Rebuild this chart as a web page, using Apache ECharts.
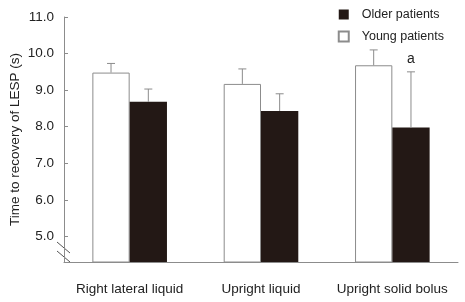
<!DOCTYPE html>
<html>
<head>
<meta charset="utf-8">
<script src="https://cdn.jsdelivr.net/npm/echarts@6/dist/echarts.min.js"></script>
<style>
  html, body { margin: 0; padding: 0; background: #fff; }
  #main { width: 465px; height: 302px; }
</style>
</head>
<body>
<div id="main"></div>
<script>
  let categories = ['Right lateral liquid', 'Upright liquid', 'Upright solid bolus'];
  let youngMean = [9.48, 9.17, 9.68];
  let youngSD = [0.25, 0.41, 0.42];
  let olderMean = [8.68, 8.43, 7.98];
  let olderSD = [0.35, 0.47, 1.52];
  let marks = ['', '', 'a'];
  let yTicks = [5, 6, 7, 8, 9, 10, 11];

  let font = 'Liberation Sans';
  let axisGrey = '#8c8c8c';
  let barShare = 0.284; // each bar as part of band width

  let myChart = echarts.init(document.getElementById('main'));

  // error bars (upward only) for one series, dx = -1 young, +1 older
  function errorSeries(name, means, sds, dx, labels) {
    return {
      name: name + ' error',
      type: 'custom',
      z: 5,
      data: means.map(function (m, i) { return [i, m, m + sds[i]]; }),
      renderItem: function (params, api) {
        let i = api.value(0);
        let band = api.size([1, 0])[0];
        let x = api.coord([i, 0])[0] + dx * band * barShare / 2;
        let yLow = api.coord([i, api.value(1)])[1];
        let yHigh = api.coord([i, api.value(2)])[1];
        let st = { stroke: axisGrey, lineWidth: 1 };
        let children = [
          { type: 'line', shape: { x1: x, y1: yLow, x2: x, y2: yHigh }, style: st },
          { type: 'line', shape: { x1: x - 4, y1: yHigh, x2: x + 4, y2: yHigh }, style: st }
        ];
        if (labels && labels[params.dataIndex]) {
          children.push({
            type: 'text',
            style: {
              text: labels[params.dataIndex], x: x, y: yHigh - 6,
              align: 'center', verticalAlign: 'bottom',
              font: '14px "' + font + '"', fill: '#222'
            }
          });
        }
        return { type: 'group', children: children };
      }
    };
  }

  let option = {
    animation: false,
    textStyle: { fontFamily: font },
    grid: { left: 64, right: 7, top: 17, bottom: 40, outerBoundsMode: 'none', containLabel: false },
    legend: {
      orient: 'vertical',
      right: 16,
      top: 3,
      itemWidth: 10,
      itemHeight: 10,
      itemGap: 9,
      icon: 'rect',
      textStyle: { fontSize: 12.5, color: '#222', fontFamily: font, padding: [0, 0, 0, 8] },
      data: ['Older patients', 'Young patients']
    },
    xAxis: {
      type: 'category',
      data: categories,
      axisLine: { lineStyle: { color: axisGrey } },
      axisTick: { inside: true, length: 4, lineStyle: { color: axisGrey } },
      axisLabel: { color: '#222', fontSize: 13.5, margin: 20, interval: 0, fontFamily: font }
    },
    yAxis: {
      type: 'value',
      min: 4.3,
      max: 11,
      name: 'Time to recovery of LESP (s)',
      nameLocation: 'middle',
      nameGap: 42,
      nameMoveOverlap: false,
      nameTextStyle: { fontSize: 13.5, color: '#222', fontFamily: font },
      splitLine: { show: false },
      axisLine: { show: true, lineStyle: { color: axisGrey } },
      axisTick: { show: true, inside: true, length: 4, customValues: yTicks, lineStyle: { color: axisGrey } },
      axisLabel: {
        color: '#222', fontSize: 13.5, margin: 10, fontFamily: font,
        customValues: yTicks,
        formatter: function (v) { return v.toFixed(1); }
      }
    },
    series: [
      {
        name: 'Young patients',
        type: 'bar',
        data: youngMean,
        barWidth: (barShare * 100) + '%',
        barGap: '0%',
        itemStyle: { color: '#ffffff', borderColor: axisGrey, borderWidth: 1 }
      },
      {
        name: 'Older patients',
        type: 'bar',
        data: olderMean,
        barWidth: (barShare * 100) + '%',
        barGap: '0%',
        itemStyle: { color: '#231815' }
      },
      errorSeries('Young', youngMean, youngSD, -1, null),
      errorSeries('Older', olderMean, olderSD, 1, marks)
    ],
    graphic: [
      { type: 'line', shape: { x1: 57, y1: 242, x2: 70, y2: 253 }, style: { stroke: '#555', lineWidth: 1 } },
      { type: 'line', shape: { x1: 57, y1: 251, x2: 70, y2: 262 }, style: { stroke: '#555', lineWidth: 1 } }
    ]
  };
  myChart.setOption(option);
</script>
</body>
</html>
